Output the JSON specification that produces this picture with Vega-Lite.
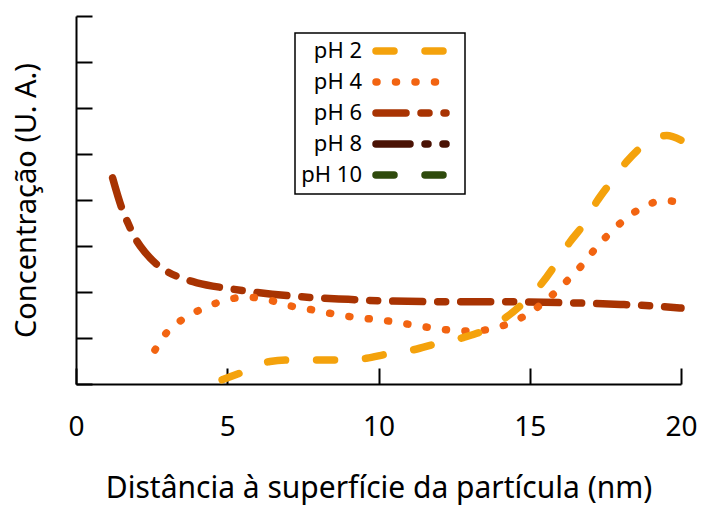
{
  "$schema": "https://vega.github.io/schema/vega-lite/v6.json",
  "autosize": "none",
  "width": 605,
  "height": 368,
  "padding": {"left": 76, "top": 16, "right": 23, "bottom": 122},
  "background": "white",
  "config": {
    "view": {"stroke": null},
    "font": "Noto Sans",
    "axis": {"grid": false, "domainColor": "black", "domainWidth": 2, "tickColor": "black", "tickWidth": 2, "labelFont": "Noto Sans", "titleFont": "Noto Sans", "labelColor": "black", "titleColor": "black", "titleFontWeight": "normal"}
  },
  "data": {"values": [
    {"ph": "pH 6", "x": 1.21, "y": 4.48}, {"ph": "pH 6", "x": 1.5, "y": 3.85}, {"ph": "pH 6", "x": 1.75, "y": 3.45}, {"ph": "pH 6", "x": 2.0, "y": 3.12}, {"ph": "pH 6", "x": 2.3, "y": 2.85}, {"ph": "pH 6", "x": 2.67, "y": 2.6}, {"ph": "pH 6", "x": 3.0, "y": 2.45}, {"ph": "pH 6", "x": 3.5, "y": 2.3}, {"ph": "pH 6", "x": 4.0, "y": 2.2}, {"ph": "pH 6", "x": 5.0, "y": 2.08}, {"ph": "pH 6", "x": 6.0, "y": 1.99}, {"ph": "pH 6", "x": 7.0, "y": 1.92}, {"ph": "pH 6", "x": 8.0, "y": 1.87}, {"ph": "pH 6", "x": 9.0, "y": 1.84}, {"ph": "pH 6", "x": 10.0, "y": 1.81}, {"ph": "pH 6", "x": 12.0, "y": 1.79}, {"ph": "pH 6", "x": 14.0, "y": 1.79}, {"ph": "pH 6", "x": 16.0, "y": 1.77}, {"ph": "pH 6", "x": 18.0, "y": 1.73}, {"ph": "pH 6", "x": 19.0, "y": 1.7}, {"ph": "pH 6", "x": 20.0, "y": 1.65},
    {"ph": "pH 4", "x": 2.61, "y": 0.74}, {"ph": "pH 4", "x": 3.0, "y": 1.12}, {"ph": "pH 4", "x": 3.49, "y": 1.39}, {"ph": "pH 4", "x": 4.03, "y": 1.59}, {"ph": "pH 4", "x": 4.6, "y": 1.75}, {"ph": "pH 4", "x": 5.2, "y": 1.86}, {"ph": "pH 4", "x": 5.6, "y": 1.89}, {"ph": "pH 4", "x": 6.0, "y": 1.87}, {"ph": "pH 4", "x": 6.47, "y": 1.81}, {"ph": "pH 4", "x": 7.07, "y": 1.7}, {"ph": "pH 4", "x": 7.67, "y": 1.63}, {"ph": "pH 4", "x": 8.29, "y": 1.55}, {"ph": "pH 4", "x": 8.89, "y": 1.48}, {"ph": "pH 4", "x": 9.5, "y": 1.43}, {"ph": "pH 4", "x": 10.1, "y": 1.39}, {"ph": "pH 4", "x": 10.7, "y": 1.33}, {"ph": "pH 4", "x": 11.37, "y": 1.26}, {"ph": "pH 4", "x": 11.98, "y": 1.2}, {"ph": "pH 4", "x": 12.58, "y": 1.16}, {"ph": "pH 4", "x": 13.1, "y": 1.15}, {"ph": "pH 4", "x": 13.85, "y": 1.22}, {"ph": "pH 4", "x": 14.44, "y": 1.35}, {"ph": "pH 4", "x": 15.0, "y": 1.55}, {"ph": "pH 4", "x": 15.56, "y": 1.83}, {"ph": "pH 4", "x": 15.97, "y": 2.07}, {"ph": "pH 4", "x": 16.39, "y": 2.35}, {"ph": "pH 4", "x": 16.83, "y": 2.66}, {"ph": "pH 4", "x": 17.21, "y": 2.98}, {"ph": "pH 4", "x": 17.65, "y": 3.28}, {"ph": "pH 4", "x": 18.09, "y": 3.55}, {"ph": "pH 4", "x": 18.62, "y": 3.8}, {"ph": "pH 4", "x": 19.2, "y": 3.96}, {"ph": "pH 4", "x": 19.6, "y": 3.98}, {"ph": "pH 4", "x": 20.0, "y": 3.93},
    {"ph": "pH 2", "x": 4.83, "y": 0.09}, {"ph": "pH 2", "x": 5.48, "y": 0.25}, {"ph": "pH 2", "x": 6.41, "y": 0.49}, {"ph": "pH 2", "x": 7.02, "y": 0.52}, {"ph": "pH 2", "x": 8.07, "y": 0.52}, {"ph": "pH 2", "x": 8.73, "y": 0.52}, {"ph": "pH 2", "x": 9.6, "y": 0.56}, {"ph": "pH 2", "x": 10.27, "y": 0.65}, {"ph": "pH 2", "x": 11.2, "y": 0.75}, {"ph": "pH 2", "x": 11.87, "y": 0.87}, {"ph": "pH 2", "x": 12.8, "y": 1.01}, {"ph": "pH 2", "x": 13.41, "y": 1.14}, {"ph": "pH 2", "x": 14.24, "y": 1.46}, {"ph": "pH 2", "x": 14.77, "y": 1.75}, {"ph": "pH 2", "x": 15.4, "y": 2.19}, {"ph": "pH 2", "x": 15.84, "y": 2.59}, {"ph": "pH 2", "x": 16.33, "y": 3.09}, {"ph": "pH 2", "x": 16.77, "y": 3.46}, {"ph": "pH 2", "x": 17.21, "y": 3.96}, {"ph": "pH 2", "x": 17.65, "y": 4.36}, {"ph": "pH 2", "x": 18.2, "y": 4.83}, {"ph": "pH 2", "x": 18.7, "y": 5.16}, {"ph": "pH 2", "x": 19.2, "y": 5.37}, {"ph": "pH 2", "x": 19.53, "y": 5.4}, {"ph": "pH 2", "x": 20.0, "y": 5.3}
  ]},
  "mark": {"type": "line", "interpolate": "monotone", "strokeWidth": 7.5, "strokeCap": "round", "strokeJoin": "round"},
  "encoding": {
    "x": {"field": "x", "type": "quantitative", "scale": {"domain": [0, 20], "nice": false, "zero": false},
      "axis": {"title": "Distância à superfície da partícula (nm)", "values": [0, 5, 10, 15, 20], "tickSize": -16, "labelFontSize": 28, "titleFontSize": 30, "labelPadding": 45, "titlePadding": 32, "labelFlush": false, "labelOverlap": false}},
    "y": {"field": "y", "type": "quantitative", "scale": {"domain": [0, 8], "nice": false},
      "axis": {"title": "Concentração (U. A.)", "values": [0, 1, 2, 3, 4, 5, 6, 7, 8], "tickSize": -16, "labels": false, "titleFontSize": 29, "titlePadding": 34}},
    "color": {"field": "ph", "type": "nominal", "scale": {"domain": ["pH 2", "pH 4", "pH 6", "pH 8", "pH 10"], "range": ["#f4a20c", "#f26411", "#a83302", "#4a1204", "#2e4a0c"]},
      "legend": {"title": null, "orient": "none", "legendX": 219, "legendY": 17, "strokeColor": "black", "padding": 4, "symbolType": "M6.3,0H13.3", "symbolSize": 400, "symbolStrokeWidth": 7.5, "labelFontSize": 22, "labelAlign": "right", "labelOffset": 35, "labelColor": "black", "rowPadding": 1,
        "encode": {"symbols": {"update": {"strokeCap": {"value": "round"}, "fill": {"value": "transparent"}}}, "legend": {"update": {"strokeWidth": {"value": 1.5}}}}}},
    "strokeDash": {"field": "ph", "type": "nominal", "scale": {"domain": ["pH 2", "pH 4", "pH 6", "pH 8", "pH 10"], "range": [[18, 31], [1, 18.5], [30, 15, 8, 15], [34, 15, 3, 15, 3, 15], [18, 31]]},
      "legend": {"title": null, "orient": "none", "legendX": 219, "legendY": 17, "strokeColor": "black", "padding": 4, "symbolType": "M6.3,0H13.3", "symbolSize": 400, "symbolStrokeWidth": 7.5, "labelFontSize": 22, "labelAlign": "right", "labelOffset": 35, "labelColor": "black", "rowPadding": 1,
        "encode": {"symbols": {"update": {"strokeCap": {"value": "round"}, "fill": {"value": "transparent"}}}, "legend": {"update": {"strokeWidth": {"value": 1.5}}}}}}
  }
}
